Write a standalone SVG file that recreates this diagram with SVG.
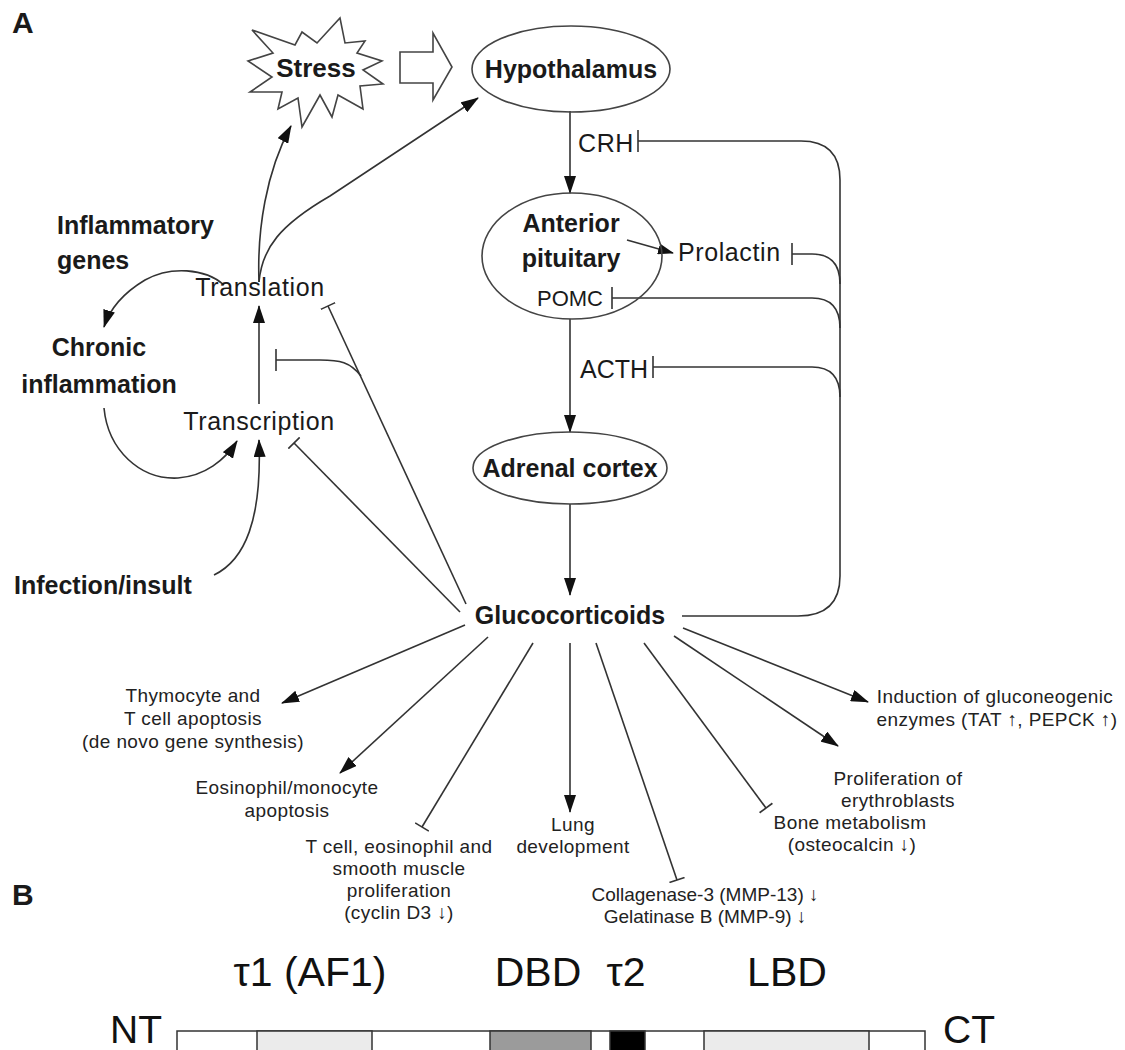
<svg xmlns="http://www.w3.org/2000/svg" width="1125" height="1050" viewBox="0 0 1125 1050">
<style>
.b{font-family:"Liberation Sans",Arial,sans-serif;font-weight:bold;font-size:25px;fill:#1a1a1a}
.r{font-family:"Liberation Sans",Arial,sans-serif;font-size:25px;fill:#1a1a1a;letter-spacing:0.6px}
.s{font-family:"Liberation Sans",Arial,sans-serif;font-size:19px;fill:#222;letter-spacing:0.4px}
.p{font-family:"Liberation Sans",Arial,sans-serif;font-size:41px;fill:#111}
.m{text-anchor:middle}
.ln{fill:none;stroke:#333;stroke-width:1.6}
.nd{fill:#fff;stroke:#444;stroke-width:1.6}
.el{fill:none;stroke:#444;stroke-width:1.6}
.seg{stroke:#333;stroke-width:1.5}
</style>
<defs>
<marker id="ah" viewBox="0 0 18 12" refX="17" refY="6" markerWidth="18" markerHeight="12" markerUnits="userSpaceOnUse" orient="auto"><path d="M0,0 L18,6 L0,12 z" fill="#111"/></marker>
<marker id="ahs" viewBox="0 0 16 11" refX="15" refY="5.5" markerWidth="16" markerHeight="11" markerUnits="userSpaceOnUse" orient="auto"><path d="M0,0 L16,5.5 L0,11 z" fill="#111"/></marker>
<marker id="bar" viewBox="0 0 4 22" refX="2" refY="11" markerWidth="4" markerHeight="22" markerUnits="userSpaceOnUse" orient="auto"><line x1="2" y1="0" x2="2" y2="22" stroke="#333" stroke-width="1.6"/></marker>
<marker id="bars" viewBox="0 0 4 16" refX="2" refY="8" markerWidth="4" markerHeight="16" markerUnits="userSpaceOnUse" orient="auto"><line x1="2" y1="0" x2="2" y2="16" stroke="#333" stroke-width="1.6"/></marker>
</defs>
<rect width="1125" height="1050" fill="#fff"/>
<text x="12" y="33" class="b" style="font-size:30px">A</text>
<text x="12" y="905" class="b" style="font-size:30px">B</text>

<g id="connectors">
<!-- HPA axis -->
<path class="ln" d="M570,111 L570,193" marker-end="url(#ah)"/>
<path class="ln" d="M570,319 L570,432" marker-end="url(#ah)"/>
<path class="ln" d="M570,504 L570,595" marker-end="url(#ah)"/>
<path class="ln" d="M627,240 L673,253" marker-end="url(#ahs)"/>
<!-- feedback -->
<path class="ln" d="M682,616 L798,616 Q840,616 840,576 L840,180 Q840,141 801,141 L638,141" marker-end="url(#bar)"/>
<path class="ln" d="M792,254 L812,254 Q840,254 840,284" marker-start="url(#bar)"/>
<path class="ln" d="M612,298 L812,298 Q840,298 840,328" marker-start="url(#bar)"/>
<path class="ln" d="M653,367 L812,367 Q840,367 840,397" marker-start="url(#bar)"/>
<!-- stress block arrow -->
<polygon class="nd" points="400,52 433,52 433,33 452,67 433,100 433,83 400,83"/>
<!-- left cascade -->
<path class="ln" d="M259,404 L259,306" marker-end="url(#ah)"/>
<path class="ln" d="M214,575 C245,560 262,520 259,440" marker-end="url(#ah)"/>
<path class="ln" d="M104,408 C108,450 140,480 178,478 C205,476 225,460 237,441" marker-end="url(#ah)"/>
<path class="ln" d="M224,285 C205,268 170,266 145,280 C125,292 110,308 104,327" marker-end="url(#ah)"/>
<path class="ln" d="M259,282 C257,230 266,172 291,126" marker-end="url(#ah)"/>
<path class="ln" d="M259,282 C262,248 280,225 330,196 L478,98" marker-end="url(#ah)"/>
<!-- GC inhibition of translation/transcription -->
<path class="ln" d="M466,604 L328,306" marker-end="url(#bars)"/>
<path class="ln" d="M361,376 C350,362 340,360 320,360 L276,360" marker-end="url(#bar)"/>
<path class="ln" d="M460,612 L294,443" marker-end="url(#bars)"/>
<!-- fan -->
<path class="ln" d="M465,625 L282,703" marker-end="url(#ah)"/>
<path class="ln" d="M488,637 L340,773" marker-end="url(#ah)"/>
<path class="ln" d="M533,643 L422,827" marker-end="url(#bars)"/>
<path class="ln" d="M570,643 L570,812" marker-end="url(#ah)"/>
<path class="ln" d="M596,643 L677,880" marker-end="url(#bars)"/>
<path class="ln" d="M644,643 L766,808" marker-end="url(#bars)"/>
<path class="ln" d="M674,636 L838,746" marker-end="url(#ah)"/>
<path class="ln" d="M683,628 L868,702" marker-end="url(#ah)"/>
</g>

<g id="stress">
<polygon class="nd" points="252,30 295,45 302,32 317,43 340,18 345,43 365,41 357,53 382,61 363,70 383,84 360,86 363,109 338,95 332,117 320,95 302,127 298,98 278,109 282,92 250,92 272,77 248,61 273,53"/>
<text x="316" y="77" class="b m" style="font-size:26px">Stress</text>
</g>
<g id="hypothalamus">
<ellipse class="el" cx="571" cy="69" rx="99" ry="43"/>
<text x="571" y="78" class="b m">Hypothalamus</text>
</g>
<g id="crh"><text x="578" y="152" class="r">CRH</text></g>
<g id="pituitary">
<ellipse class="el" cx="572" cy="256" rx="90" ry="63"/>
<text x="571" y="232" class="b m">Anterior</text>
<text x="571" y="267" class="b m">pituitary</text>
</g>
<g id="pomc"><text x="537" y="306" class="r" style="font-size:22px;letter-spacing:0">POMC</text></g>
<g id="prolactin"><text x="678" y="261" class="r">Prolactin</text></g>
<g id="acth"><text x="580" y="378" class="r" style="letter-spacing:0">ACTH</text></g>
<g id="adrenal">
<ellipse class="el" cx="570" cy="468" rx="97" ry="36"/>
<text x="570" y="477" class="b m">Adrenal cortex</text>
</g>
<g id="glucocorticoids"><text x="570" y="624" class="b m">Glucocorticoids</text></g>

<g id="inflammatory"><text x="57" y="234" class="b">Inflammatory</text><text x="57" y="269" class="b">genes</text></g>
<g id="translation"><text x="260" y="296" class="r m">Translation</text></g>
<g id="chronic"><text x="99" y="356" class="b m">Chronic</text><text x="99" y="393" class="b m">inflammation</text></g>
<g id="transcription"><text x="259" y="430" class="r m">Transcription</text></g>
<g id="infection"><text x="14" y="594" class="b">Infection/insult</text></g>

<g id="thymocyte"><text class="s m"><tspan x="193" y="702">Thymocyte and</tspan><tspan x="193" y="725">T cell apoptosis</tspan><tspan x="193" y="748">(de novo gene synthesis)</tspan></text></g>
<g id="eosinophil"><text class="s m"><tspan x="287" y="794">Eosinophil/monocyte</tspan><tspan x="287" y="817">apoptosis</tspan></text></g>
<g id="tcell"><text class="s m"><tspan x="399" y="853">T cell, eosinophil and</tspan><tspan x="399" y="875">smooth muscle</tspan><tspan x="399" y="897">proliferation</tspan><tspan x="399" y="919">(cyclin D3 ↓)</tspan></text></g>
<g id="lung"><text class="s m"><tspan x="573" y="831">Lung</tspan><tspan x="573" y="853">development</tspan></text></g>
<g id="collagenase"><text class="s m" style="letter-spacing:0"><tspan x="705" y="901">Collagenase-3 (MMP-13) ↓</tspan><tspan x="705" y="923">Gelatinase B (MMP-9) ↓</tspan></text></g>
<g id="bone"><text class="s m"><tspan x="850" y="829">Bone metabolism</tspan><tspan x="852" y="851">(osteocalcin ↓)</tspan></text></g>
<g id="erythro"><text class="s m"><tspan x="898" y="785">Proliferation of</tspan><tspan x="898" y="807">erythroblasts</tspan></text></g>
<g id="induction"><text class="s m"><tspan x="995" y="703">Induction of gluconeogenic</tspan><tspan x="997" y="726">enzymes (TAT ↑, PEPCK ↑)</tspan></text></g>

<g id="receptor">
<rect class="seg" x="177" y="1031" width="748" height="30" fill="#fff"/>
<rect class="seg" x="257" y="1031" width="115" height="30" fill="#ebebeb"/>
<rect class="seg" x="490" y="1031" width="101" height="30" fill="#9b9b9b"/>
<rect class="seg" x="610" y="1031" width="35" height="30" fill="#000"/>
<rect class="seg" x="704" y="1031" width="165" height="30" fill="#ebebeb"/>
<text x="310" y="986" class="p m">τ1 (AF1)</text>
<text x="538" y="986" class="p m">DBD</text>
<text x="626" y="986" class="p m">τ2</text>
<text x="787" y="986" class="p m">LBD</text>
<text x="110" y="1043" class="p" style="font-size:39px">NT</text>
<text x="943" y="1043" class="p" style="font-size:39px">CT</text>
</g>
</svg>
